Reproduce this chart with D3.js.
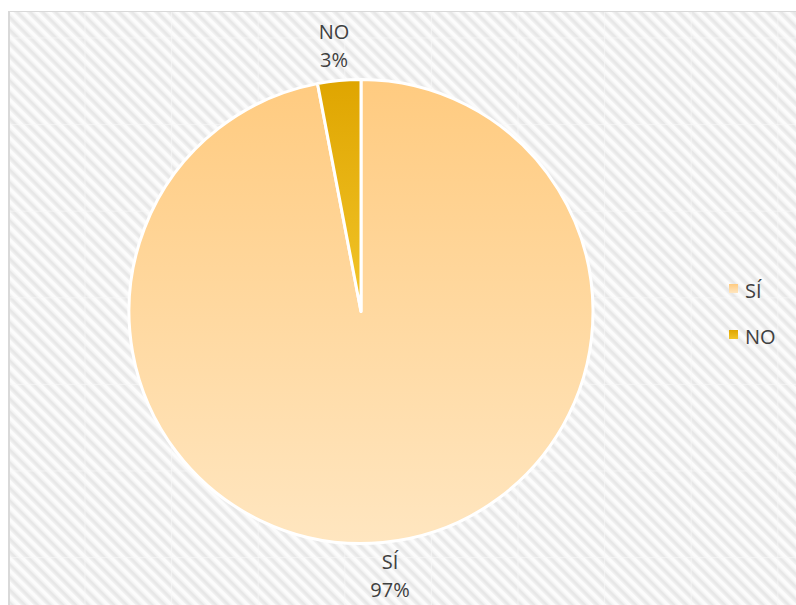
<!DOCTYPE html>
<html lang="es">
<head>
<meta charset="utf-8">
<title>SÍ / NO</title>
<script src="https://cdn.jsdelivr.net/npm/d3@7"></script>
<style>
  body { margin: 0; background: #fff; }
  text { font-family: "Open Sans", "Noto Sans", sans-serif; fill: #404040; }
</style>
</head>
<body>
<div id="chart"></div>
<script>
// data
var categories = ["SÍ", "NO"];
var values = [97, 3];
var labels = ["97%", "3%"];

var W = 796, H = 605;
var cx = 361, cy = 311.5, radius = 232;

var svg = d3.select("#chart").append("svg")
  .attr("width", W)
  .attr("height", H);

var defs = svg.append("defs");

// striped background (stripes running down to the right)
var pat = defs.append("pattern")
  .attr("id", "stripes")
  .attr("patternUnits", "userSpaceOnUse")
  .attr("width", 9).attr("height", 9)
  .attr("patternTransform", "rotate(-45)");
pat.append("rect").attr("width", 9).attr("height", 9).attr("fill", "#fcfcfc");
pat.append("rect").attr("x", 1).attr("width", 5.5).attr("height", 9).attr("fill", "#f1f1f1");
pat.append("rect").attr("x", 2.5).attr("width", 2.5).attr("height", 9).attr("fill", "#e7e7e7");

// gradients for the slices
var grads = [
  { id: "g0", top: "#ffcb80", bottom: "#ffe6c0" },
  { id: "g1", top: "#dfa500", bottom: "#f2c52a" }
];
grads.forEach(function(g) {
  var lg = defs.append("linearGradient")
    .attr("id", g.id)
    .attr("x1", 0).attr("y1", 0).attr("x2", 0).attr("y2", 1);
  lg.append("stop").attr("offset", "0%").attr("stop-color", g.top);
  lg.append("stop").attr("offset", "100%").attr("stop-color", g.bottom);
});

// chart area
svg.append("rect")
  .attr("x", 8).attr("y", 11)
  .attr("width", W - 8).attr("height", H - 11)
  .attr("fill", "url(#stripes)");

// faint tile seams of the texture
var seamX = d3.range(85, W, 86.6);
var seamY = d3.range(38, H, 86.6);
svg.selectAll(".seamx").data(seamX).enter().append("line")
  .attr("x1", function(d) { return d; }).attr("x2", function(d) { return d; })
  .attr("y1", 12).attr("y2", H)
  .attr("stroke", "#fafafa").attr("stroke-width", 1)
  .attr("opacity", 0.6);
svg.selectAll(".seamy").data(seamY).enter().append("line")
  .attr("y1", function(d) { return d; }).attr("y2", function(d) { return d; })
  .attr("x1", 10).attr("x2", W)
  .attr("stroke", "#fafafa").attr("stroke-width", 1)
  .attr("opacity", 0.6);

// border
svg.append("line").attr("x1", 8).attr("x2", W).attr("y1", 11.5).attr("y2", 11.5)
  .attr("stroke", "#d9d9d9").attr("stroke-width", 1);
svg.append("line").attr("x1", 9).attr("x2", 9).attr("y1", 11).attr("y2", H)
  .attr("stroke", "#d9d9d9").attr("stroke-width", 2);

// pie
var pie = d3.pie().sort(null).value(function(d) { return d; });
var arc = d3.arc().innerRadius(0).outerRadius(radius);

var g = svg.append("g").attr("transform", "translate(" + cx + "," + cy + ")");

var arcs = pie(values);

g.selectAll("path")
  .data(arcs)
  .enter().append("path")
  .attr("d", arc)
  .attr("fill", function(d, i) { return "url(#g" + i + ")"; })
  .attr("stroke", "#fff")
  .attr("stroke-width", 3)
  .attr("stroke-linejoin", "round");

// data labels
var labelPos = [
  { x: 390, y: 569 },
  { x: 334, y: 39 }
];
categories.forEach(function(c, i) {
  var t = svg.append("text")
    .attr("text-anchor", "middle")
    .attr("font-size", 20);
  t.append("tspan").attr("x", labelPos[i].x).attr("y", labelPos[i].y).text(c);
  t.append("tspan").attr("x", labelPos[i].x).attr("y", labelPos[i].y + 28).text(labels[i]);
});

// legend
var legend = svg.append("g").attr("transform", "translate(729,284)");
var item = legend.selectAll("g")
  .data(categories)
  .enter().append("g")
  .attr("transform", function(d, i) { return "translate(0," + (i * 46) + ")"; });
item.append("rect")
  .attr("width", 9).attr("height", 9)
  .attr("fill", function(d, i) { return "url(#g" + i + ")"; });
item.append("text")
  .attr("x", 16).attr("y", 14)
  .attr("font-size", 20)
  .text(function(d) { return d; });
</script>
</body>
</html>
